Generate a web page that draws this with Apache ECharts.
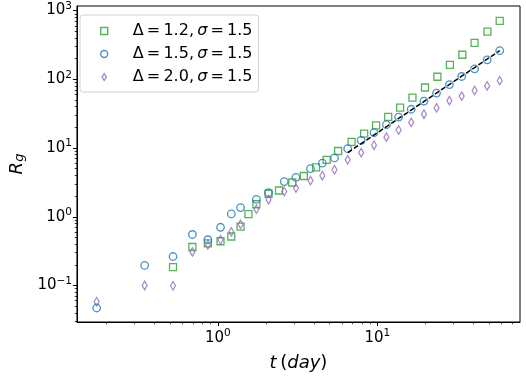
<!DOCTYPE html>
<html><head><meta charset="utf-8">
<script src="https://cdn.jsdelivr.net/npm/echarts@6/dist/echarts.min.js"></script>
<style>html,body{margin:0;padding:0;background:#fff}#c{width:526px;height:377px}</style>
</head><body><div id="c"></div>
<script>
// Series A: Δ = 1.2
const tA = [0.524,0.693,0.867,1.04,1.215,1.389,1.556,1.745,2.08,2.42,2.93,3.46,4.13,4.81,5.68,6.90,8.27,9.82,11.7,13.9,16.6,19.9,23.8,28.5,34.1,40.7,49.0,58.5];
const rA = [0.185,0.363,0.41,0.44,0.516,0.718,1.09,1.52,2.16,2.41,3.15,3.92,5.22,6.73,9.06,12.3,16.2,21.4,28.5,38.8,54,76,109,162,228,340,494,711];
// Series B: Δ = 1.5
const tB = [0.174,0.348,0.524,0.693,0.867,1.04,1.215,1.389,1.745,2.08,2.61,3.09,3.81,4.52,5.39,6.52,7.92,9.53,11.4,13.6,16.3,19.6,23.5,28.3,33.8,40.7,48.8,58.5];
const rB = [0.047,0.196,0.264,0.552,0.463,0.703,1.10,1.36,1.79,2.24,3.25,3.75,5.0,6.03,7.19,9.78,12.9,16.8,21.9,28.2,36.7,48.3,63,83.8,110,142,192,261];
// Series C: Δ = 2.0
const tC = [0.174,0.348,0.524,0.693,0.867,1.04,1.215,1.389,1.745,2.08,2.61,3.09,3.81,4.52,5.39,6.52,7.92,9.53,11.4,13.6,16.3,19.6,23.5,28.3,33.8,40.7,48.8,58.5];
const rC = [0.058,0.10,0.099,0.308,0.392,0.463,0.602,0.776,1.29,1.77,2.33,2.61,3.36,3.96,4.83,6.73,8.57,11.0,14.4,18.3,23.6,31.1,38.4,48.9,57,68.8,80.2,95.7];
// Fit line (dashed)
const fitT = [6.52, 58.5];
const fitR = [8.57, 261];
// Names (thin spaces as in mathtext)
const seriesNames = ['Δ\u2009=\u20091.2,\u2009σ\u2009=\u20091.5', 'Δ\u2009=\u20091.5,\u2009σ\u2009=\u20091.5', 'Δ\u2009=\u20092.0,\u2009σ\u2009=\u20091.5'];
// Ticks
const xMajor = [1, 10];
const xMinor = [0.2,0.3,0.4,0.5,0.6,0.7,0.8,0.9,2,3,4,5,6,7,8,9,20,30,40,50,60,70];
const yMajor = [0.1, 1, 10, 100, 1000];
const yMinor = [0.03,0.04,0.05,0.06,0.07,0.08,0.09,0.2,0.3,0.4,0.5,0.6,0.7,0.8,0.9,2,3,4,5,6,7,8,9,20,30,40,50,60,70,80,90,200,300,400,500,600,700,800,900];
const xRange = [0.131, 78.4];
const yRange = [0.0294, 1167];

const FONT = 'DejaVu Sans';
const zip = (a, b) => a.map((v, i) => [v, b[i]]);
function powLabel(v) {
  const e = Math.log10(v), r = Math.round(e);
  if (Math.abs(e - r) > 1e-6) return '';
  return '{b|10}{s|' + (r < 0 ? '\u2212' + (-r) : r) + '}';
}
const labelRich = {
  b: {fontSize: 15, fontFamily: FONT, color: '#000'},
  s: {fontSize: 10.5, fontFamily: FONT, color: '#000', padding: [0, 0, 9, 0]}
};
function axisPair(kind, range, major, minor, pos) {
  const base = {
    type: 'log', logBase: 10, min: range[0], max: range[1], position: pos,
    splitLine: {show: false}, minorTick: {show: false}, minorSplitLine: {show: false}
  };
  return [
    Object.assign({}, base, {
      axisLine: {show: true, lineStyle: {color: '#000', width: 1}},
      axisTick: {show: true, inside: false, length: 4, lineStyle: {color: '#000', width: 1}, customValues: major},
      axisLabel: {show: true, formatter: powLabel, rich: labelRich, margin: kind === 'x' ? 6 : 5}
    }),
    Object.assign({}, base, {
      axisLine: {show: false},
      axisTick: {show: true, inside: false, length: 2.2, lineStyle: {color: '#000', width: 0.8}, customValues: minor},
      axisLabel: {show: false}
    })
  ];
}
const xs = axisPair('x', xRange, xMajor, xMinor, 'bottom');
const ys = axisPair('y', yRange, yMajor, yMinor, 'left');
xs[0].name = '{i|t}{n|\u2009(}{i|day}{n|)}';
xs[0].nameLocation = 'middle';
xs[0].nameGap = 32;
xs[0].nameTextStyle = {rich: {
  i: {fontSize: 18, fontStyle: 'italic', fontFamily: FONT, color: '#000'},
  n: {fontSize: 18, fontFamily: FONT, color: '#000'}
}};
ys[0].name = '{i|R}{s|g}';
ys[0].nameLocation = 'middle';
ys[0].nameRotate = 90;
ys[0].nameGap = 49;
ys[0].nameTextStyle = {rich: {
  i: {fontSize: 18, fontStyle: 'italic', fontFamily: FONT, color: '#000'},
  s: {fontSize: 13, fontStyle: 'italic', fontFamily: FONT, color: '#000', padding: [6, 0, 0, 0]}
}};

const colors = ['#2ca02c', '#1f77b4', '#9467bd'];
const hollow = (c, w) => ({color: 'rgba(0,0,0,0)', borderColor: c, borderWidth: w || 1.3});

const chart = echarts.init(document.getElementById('c'), null, {renderer: 'canvas'});
chart.setOption({
  animation: false,
  backgroundColor: '#fff',
  grid: {left: 72, right: 6, top: 6, bottom: 50, show: true, borderColor: '#000', borderWidth: 1, backgroundColor: 'transparent'},
  xAxis: xs,
  yAxis: ys,
  legend: {
    orient: 'vertical', left: 80, top: 15,
    padding: [8, 6, 7, 20], itemWidth: 7, itemHeight: 7, itemGap: 7,
    backgroundColor: 'rgba(255,255,255,0.85)', borderColor: '#d0d0d0', borderWidth: 1, borderRadius: 3,
    data: [
      {name: seriesNames[0], icon: 'rect', itemStyle: hollow(colors[0], 1.4)},
      {name: seriesNames[1], icon: 'circle', itemStyle: hollow(colors[1], 1.4)},
      {name: seriesNames[2], icon: 'path://M0,0L3,5L0,10L-3,5Z', itemStyle: hollow(colors[2], 1.4)}
    ],
    formatter: function (name) {
      const parts = name.split('σ');
      return '{p|}{n|' + parts[0] + '}{i|σ}{n|' + parts[1] + '}';
    },
    textStyle: {rich: {
      p: {width: 20},
      n: {fontSize: 16, fontFamily: FONT, color: '#000', lineHeight: 18},
      i: {fontSize: 16, fontFamily: FONT, fontStyle: 'italic', color: '#000', lineHeight: 18}
    }}
  },
  series: [
    {name: seriesNames[0], type: 'scatter', xAxisIndex: 0, yAxisIndex: 0, data: zip(tA, rA), symbol: 'rect', symbolSize: 7, itemStyle: hollow(colors[0])},
    {name: seriesNames[1], type: 'scatter', xAxisIndex: 0, yAxisIndex: 0, data: zip(tB, rB), symbol: 'circle', symbolSize: 7.5, itemStyle: hollow(colors[1])},
    {name: seriesNames[2], type: 'scatter', xAxisIndex: 0, yAxisIndex: 0, data: zip(tC, rC), symbol: 'diamond', symbolSize: [5, 8.5], itemStyle: hollow(colors[2])},
    {name: 'fit', type: 'line', xAxisIndex: 0, yAxisIndex: 0, data: zip(fitT, fitR), showSymbol: false, symbol: 'none',
     lineStyle: {color: '#000', width: 1.5, type: [5, 2.5]}, z: 5}
  ]
});
</script></body></html>
